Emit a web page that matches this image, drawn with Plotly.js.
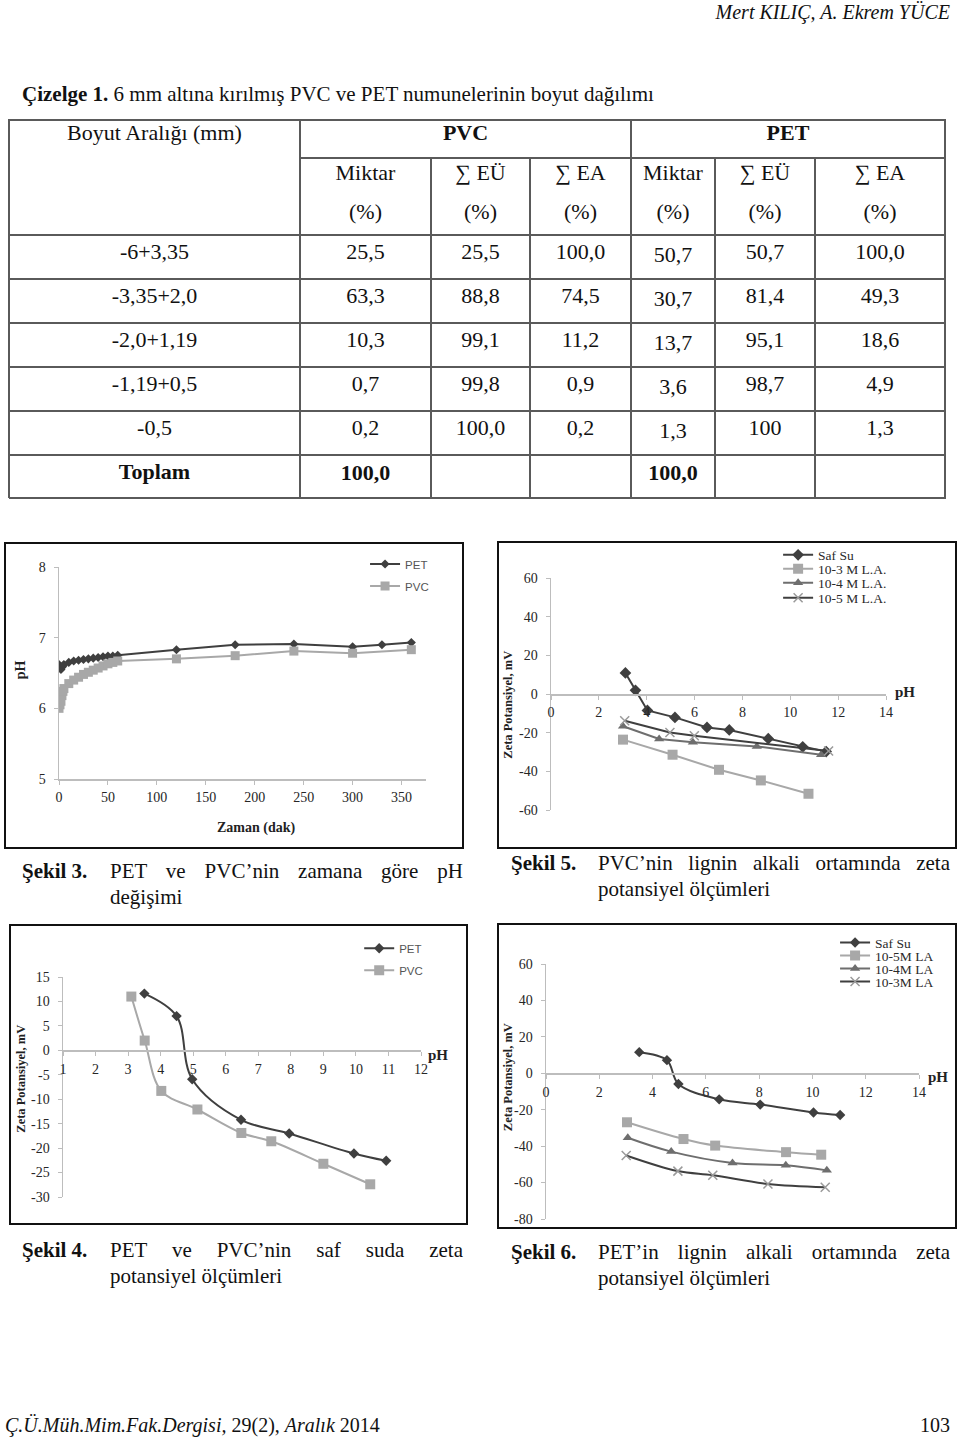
<!DOCTYPE html>
<html><head><meta charset="utf-8">
<script src="https://cdn.plot.ly/plotly-3.0.1.min.js"></script>
<style>
body{margin:0;background:#fff;}
#page{position:relative;width:960px;height:1440px;overflow:hidden;font-family:'Liberation Serif','Times New Roman',serif;color:#111;background:#fff;}
.t{position:absolute;white-space:nowrap;}
.box{position:absolute;border:2px solid #111;box-sizing:border-box;background:#fff;overflow:hidden;}
.plot{position:absolute;left:-2px;top:-2px;}
.gl{position:absolute;background:#5a5a5a;}
</style></head><body><div id="page"></div>
<script>
// ===== Table data (Çizelge 1) =====
const sizeRanges = ['-6+3,35','-3,35+2,0','-2,0+1,19','-1,19+0,5','-0,5'];
const pvcMiktar = ['25,5','63,3','10,3','0,7','0,2'];
const pvcEU     = ['25,5','88,8','99,1','99,8','100,0'];
const pvcEA     = ['100,0','74,5','11,2','0,9','0,2'];
const petMiktar = ['50,7','30,7','13,7','3,6','1,3'];
const petEU     = ['50,7','81,4','95,1','98,7','100'];
const petEA     = ['100,0','49,3','18,6','4,9','1,3'];
const totalPVC = '100,0';
const totalPET = '100,0';

// ===== Şekil 3: pH vs time =====
const f3PetTime = [0,1,2,3,4,5,10,15,20,25,30,35,40,45,50,55,60,120,180,240,300,330,360];
const f3PetPH   = [6.62,6.57,6.55,6.58,6.6,6.62,6.65,6.67,6.68,6.69,6.7,6.71,6.72,6.73,6.74,6.74,6.75,6.83,6.9,6.91,6.87,6.9,6.93];
const f3PvcTime = [0,1,2,3,4,5,10,15,20,25,30,35,40,45,50,55,60,120,180,240,300,360];
const f3PvcPH   = [6.0,6.05,6.1,6.18,6.24,6.28,6.35,6.4,6.44,6.48,6.51,6.54,6.57,6.6,6.63,6.65,6.67,6.7,6.745,6.81,6.78,6.83];
const f3XTicks = [0,50,100,150,200,250,300,350];
const f3YTicks = [5,6,7,8];

// ===== Şekil 5: PVC zeta potential =====
const f5SafPH = [3.11,3.53,4.03,5.18,6.52,7.45,9.08,10.52,11.5];
const f5SafMV = [10.9,1.9,-8.5,-12.1,-17.3,-18.6,-23.1,-27.3,-29.8];
const f5La3PH = [3.01,5.08,7.02,8.77,10.76];
const f5La3MV = [-23.6,-31.4,-39.2,-44.7,-51.6];
const f5La4PH = [3.01,4.52,5.93,8.6,11.29];
const f5La4MV = [-16.7,-23.3,-25.0,-27.1,-31.4];
const f5La5PH = [3.08,4.97,5.99,11.6];
const f5La5MV = [-13.8,-19.9,-21.6,-29.5];
const f5XTicks = [0,2,4,6,8,10,12,14];
const f5YTicks = [-60,-40,-20,0,20,40,60];

// ===== Şekil 4: PET & PVC zeta in pure water =====
const f4PetPH = [3.5,4.49,4.97,6.47,7.95,9.94,10.93];
const f4PetMV = [11.6,7.0,-5.9,-14.2,-17.0,-21.1,-22.6];
const f4PvcPH = [3.10,3.51,4.02,5.13,6.48,7.40,9.0,10.44];
const f4PvcMV = [11.0,2.0,-8.3,-12.1,-16.9,-18.6,-23.2,-27.4];
const f4XTicks = [1,2,3,4,5,6,7,8,9,10,11,12];
const f4YTicks = [-30,-25,-20,-15,-10,-5,0,5,10,15];

// ===== Şekil 6: PET zeta potential =====
const f6SafPH = [3.5,4.54,4.97,6.5,8.04,10.04,11.04];
const f6SafMV = [11.6,7.2,-5.9,-14.3,-17.2,-21.5,-22.9];
const f6La5PH = [3.04,5.16,6.35,9.01,10.33];
const f6La5MV = [-26.9,-36.1,-39.7,-43.3,-44.7];
const f6La4PH = [3.07,4.7,7.0,9.0,10.54];
const f6La4MV = [-35.4,-43.0,-49.2,-50.5,-53.3];
const f6La3PH = [3.01,4.95,6.26,8.33,10.48];
const f6La3MV = [-45.1,-53.7,-56.0,-60.8,-62.6];
const f6XTicks = [0,2,4,6,8,10,12,14];
const f6YTicks = [-80,-60,-40,-20,0,20,40,60];

// ===== page helpers =====
const page = document.getElementById('page');
function txt(html, x, cy, o) {
  o = o || {};
  const d = document.createElement('div'); d.className = 't';
  d.innerHTML = html;
  const fs = o.fs || 22, lh = o.lh || Math.round(fs * 1.2);
  d.style.fontSize = fs + 'px'; d.style.lineHeight = lh + 'px';
  d.style.top = (cy - lh / 2) + 'px';
  if (o.align === 'center') { d.style.left = (x - 300) + 'px'; d.style.width = '600px'; d.style.textAlign = 'center'; }
  else if (o.align === 'right') { d.style.right = (960 - x) + 'px'; d.style.textAlign = 'right'; }
  else if (o.justify) { d.style.left = x + 'px'; d.style.width = o.justify + 'px'; d.style.whiteSpace = 'normal'; d.style.textAlign = 'justify'; d.style.textAlignLast = 'justify'; }
  else d.style.left = x + 'px';
  if (o.bold) d.style.fontWeight = 'bold';
  if (o.italic) d.style.fontStyle = 'italic';
  page.appendChild(d); return d;
}
function gl(x, y, w, h) {
  const d = document.createElement('div'); d.className = 'gl';
  d.style.left = x + 'px'; d.style.top = y + 'px'; d.style.width = w + 'px'; d.style.height = h + 'px';
  page.appendChild(d);
}

// header
txt('Mert KILIÇ, A. Ekrem YÜCE', 950, 12, {fs: 20, italic: true, align: 'right'});
txt('<b>Çizelge 1.</b> 6 mm altına kırılmış PVC ve PET numunelerinin boyut dağılımı', 22, 94, {fs: 21});

// ===== table =====
const colX = [9, 300, 431, 530, 631, 715, 815, 945];
const rowY = [120, 158, 235, 279, 323, 367, 411, 455, 498];
const LW = 2;
gl(colX[0], rowY[0] - 1, colX[7] - colX[0] + 1, LW);
gl(colX[1], rowY[1] - 1, colX[7] - colX[1] + 1, LW);
for (let i = 2; i < rowY.length; i++) gl(colX[0], rowY[i] - 1, colX[7] - colX[0] + 1, LW);
[0, 1, 4, 7].forEach(c => gl(colX[c] - 1, rowY[0] - 1, LW, rowY[8] - rowY[0] + 1));
[2, 3, 5, 6].forEach(c => gl(colX[c] - 1, rowY[1] - 1, LW, rowY[8] - rowY[1] + 1));
const cc = i => (colX[i] + colX[i + 1]) / 2;
txt('Boyut Aralığı (mm)', cc(0), 133, {align: 'center'});
txt('PVC', (colX[1] + colX[4]) / 2, 133, {align: 'center', bold: true});
txt('PET', (colX[4] + colX[7]) / 2, 133, {align: 'center', bold: true});
const subHead = ['Miktar', '∑ EÜ', '∑ EA', 'Miktar', '∑ EÜ', '∑ EA'];
subHead.forEach((s, i) => { txt(s, cc(i + 1), 173, {align: 'center'}); txt('(%)', cc(i + 1), 212, {align: 'center'}); });
const cols = [sizeRanges, pvcMiktar, pvcEU, pvcEA, petMiktar, petEU, petEA];
const colDy = [0, 0, 0, 0, 3, 0, 0];
for (let r = 0; r < sizeRanges.length; r++) {
  const cy = 252 + r * 44;
  cols.forEach((col, c) => txt(col[r], cc(c), cy + colDy[c], {align: 'center'}));
}
txt('Toplam', cc(0), 472, {align: 'center', bold: true});
txt(totalPVC, cc(1), 473, {align: 'center', bold: true});
txt(totalPET, cc(4), 473, {align: 'center', bold: true});

// ===== captions =====
function caption(label, x0, tx, tw, cy, line1, line2) {
  txt(label, x0, cy, {fs: 21, bold: true, lh: 26});
  txt(line1, tx, cy, {fs: 21, lh: 26, justify: tw});
  txt(line2, tx, cy + 26, {fs: 21, lh: 26});
}
caption('Şekil 3.', 22, 110, 353, 871, 'PET ve PVC’nin zamana göre pH', 'değişimi');
caption('Şekil 5.', 511, 598, 352, 863, 'PVC’nin lignin alkali ortamında zeta', 'potansiyel ölçümleri');
caption('Şekil 4.', 22, 110, 353, 1250, 'PET ve PVC’nin saf suda zeta', 'potansiyel ölçümleri');
caption('Şekil 6.', 511, 598, 352, 1252, 'PET’in lignin alkali ortamında zeta', 'potansiyel ölçümleri');

// footer
txt('<i>Ç.Ü.Müh.Mim.Fak.Dergisi,</i> 29(2), <i>Aralık</i> 2014', 5, 1425, {fs: 20});
txt('103', 950, 1425, {fs: 20, align: 'right'});

// ===== charts =====
const SERIF = 'Liberation Serif, Times New Roman, serif';
const SANS = 'Liberation Sans, Arial, sans-serif';
const DARK = '#3f3f3f', LIGHT = '#a8a8a8', MID = '#6e6e6e', XGRAY = '#9a9a9a';
function axisBase(ticks) {
  return {showline: true, linecolor: '#bdbdbd', linewidth: 1.5, ticks: 'outside', ticklen: 4, tickwidth: 1,
    tickcolor: '#bdbdbd', showgrid: false, zeroline: false, fixedrange: true,
    tickmode: 'array', tickvals: ticks, ticktext: ticks.map(String), ticklabeloverflow: 'allow',
    tickfont: {family: SERIF, size: 14, color: '#262626'}};
}
function makeChart(id, box, plot, xr, yr, xTicks, yTicks, traces, legendPos, legendFont, annots, crossAtZero) {
  const wrap = document.createElement('div'); wrap.className = 'box';
  Object.assign(wrap.style, {left: box.x + 'px', top: box.y + 'px', width: box.w + 'px', height: box.h + 'px'});
  const div = document.createElement('div'); div.className = 'plot'; div.id = id;
  Object.assign(div.style, {width: box.w + 'px', height: box.h + 'px'});
  wrap.appendChild(div); page.appendChild(wrap);
  const pw = plot.r - plot.l, ph = plot.b - plot.t;
  const fx = ax => (ax - plot.l) / pw, fy = ay => 1 - (ay - plot.t) / ph;
  const xaxis = Object.assign(axisBase(xTicks), {range: xr, ticklabelstandoff: 1});
  const yaxis = Object.assign(axisBase(yTicks), {range: yr, ticklabelstandoff: 5});
  if (crossAtZero) { xaxis.anchor = 'free'; xaxis.position = (0 - yr[0]) / (yr[1] - yr[0]); }
  const layout = {
    width: box.w, height: box.h,
    margin: {l: plot.l - box.x, t: plot.t - box.y, r: box.x + box.w - plot.r, b: box.y + box.h - plot.b, pad: 0, autoexpand: false},
    paper_bgcolor: 'rgba(0,0,0,0)', plot_bgcolor: 'rgba(0,0,0,0)',
    xaxis: xaxis, yaxis: yaxis, showlegend: true,
    annotations: annots.map(a => Object.assign({xref: 'paper', yref: 'paper', showarrow: false,
      xanchor: 'center', yanchor: 'middle'}, a, {x: a.ax !== undefined ? fx(a.ax) : a.x, y: a.ay !== undefined ? fy(a.ay) : a.y}))
  };
  traces.forEach((t, i) => {
    const key = i === 0 ? 'legend' : 'legend' + (i + 1);
    t.legend = key;
    const p = legendPos[i];
    layout[key] = {x: fx(p[0] - 40), y: fy(p[1]), xanchor: 'left', yanchor: 'middle', bgcolor: 'rgba(0,0,0,0)',
      borderwidth: 0, font: legendFont};
  });
  Plotly.newPlot(div, traces, layout, {staticPlot: true, displayModeBar: false});
}
const lm = (x, y, name, color, lineColor, symbol, size, shape, extra) => Object.assign({
  x: x, y: y, name: name, type: 'scatter', mode: 'lines+markers',
  line: {color: lineColor, width: 2, shape: shape || 'linear', smoothing: 1},
  marker: {symbol: symbol, size: size, color: color, line: {width: 0, color: color}}}, extra || {});

// Şekil 3
makeChart('fig3', {x: 4, y: 542, w: 460, h: 307}, {l: 58.7, t: 567, r: 426, b: 779},
  [0, 375], [5, 8], f3XTicks, f3YTicks,
  [lm(f3PetTime, f3PetPH, 'PET', DARK, DARK, 'diamond', 7),
   lm(f3PvcTime, f3PvcPH, 'PVC', LIGHT, LIGHT, 'square', 9)],
  [[405, 564], [405, 586]], {family: SANS, size: 11.5, color: '#555'},
  [{text: '<b>Zaman (dak)</b>', x: (256 - 58.7) / 367.3, ay: 828, font: {family: SERIF, size: 14, color: '#222'}},
   {text: '<b>pH</b>', x: 0, xshift: -38.7, ay: 670, textangle: -90, font: {family: SERIF, size: 14, color: '#222'}}],
  false);

// Şekil 5
makeChart('fig5', {x: 497, y: 541, w: 460, h: 308}, {l: 551.3, t: 578, r: 885.7, b: 810},
  [0, 14], [-60, 60], f5XTicks, f5YTicks,
  [lm(f5SafPH, f5SafMV, 'Saf Su', DARK, DARK, 'diamond', 9),
   lm(f5La3PH, f5La3MV, '10-3 M L.A.', LIGHT, LIGHT, 'square', 10),
   lm(f5La4PH, f5La4MV, '10-4 M L.A.', MID, MID, 'triangle-up', 9),
   Object.assign(lm(f5La5PH, f5La5MV, '10-5 M L.A.', XGRAY, DARK, 'x-thin', 9), {marker: {symbol: 'x-thin', size: 9, color: XGRAY, line: {width: 1.5, color: XGRAY}}})],
  [[818, 555], [818, 569], [818, 583], [818, 598]], {family: SERIF, size: 13.5, color: '#2a2a2a'},
  [{text: '<b>Zeta Potansiyel, mV</b>', x: 0, xshift: -43.3, ay: 705, textangle: -90, font: {family: SERIF, size: 12.5, color: '#222'}},
   {text: '<b>pH</b>', x: 1, xshift: 19.3, y: 0.5, yshift: 2.3, font: {family: SERIF, size: 15, color: '#222'}}],
  true);

// Şekil 4
makeChart('fig4', {x: 9, y: 924, w: 459, h: 301}, {l: 63.3, t: 976.7, r: 420.7, b: 1196.7},
  [1, 12], [-30, 15], f4XTicks, f4YTicks,
  [lm(f4PetPH, f4PetMV, 'PET', DARK, DARK, 'diamond', 8, 'spline'),
   lm(f4PvcPH, f4PvcMV, 'PVC', LIGHT, LIGHT, 'square', 10, 'spline')],
  [[399, 948], [399, 970]], {family: SANS, size: 11.5, color: '#555'},
  [{text: '<b>Zeta Potansiyel, mV</b>', x: 0, xshift: -41.6, ay: 1078, textangle: -90, font: {family: SERIF, size: 12.5, color: '#222'}},
   {text: '<b>pH</b>', x: 1, xshift: 17.3, y: 30 / 45, yshift: -5, font: {family: SERIF, size: 15, color: '#222'}}],
  true);

// Şekil 6
makeChart('fig6', {x: 497, y: 923, w: 460, h: 306}, {l: 545.7, t: 964.3, r: 919, b: 1219},
  [0, 14], [-80, 60], f6XTicks, f6YTicks,
  [lm(f6SafPH, f6SafMV, 'Saf Su', DARK, DARK, 'diamond', 8, 'spline'),
   lm(f6La5PH, f6La5MV, '10-5M LA', LIGHT, LIGHT, 'square', 10, 'spline'),
   lm(f6La4PH, f6La4MV, '10-4M LA', MID, MID, 'triangle-up', 9, 'spline'),
   Object.assign(lm(f6La3PH, f6La3MV, '10-3M LA', XGRAY, DARK, 'x-thin', 9, 'spline'), {marker: {symbol: 'x-thin', size: 9, color: XGRAY, line: {width: 1.5, color: XGRAY}}})],
  [[875, 943], [875, 956], [875, 969], [875, 982]], {family: SERIF, size: 13.5, color: '#2a2a2a'},
  [{text: '<b>Zeta Potansiyel, mV</b>', x: 0, xshift: -37.7, ay: 1077, textangle: -90, font: {family: SERIF, size: 12.5, color: '#222'}},
   {text: '<b>pH</b>', x: 1, xshift: 19.3, y: 80 / 140, yshift: -3.3, font: {family: SERIF, size: 15, color: '#222'}}],
  true);
</script></body></html>
